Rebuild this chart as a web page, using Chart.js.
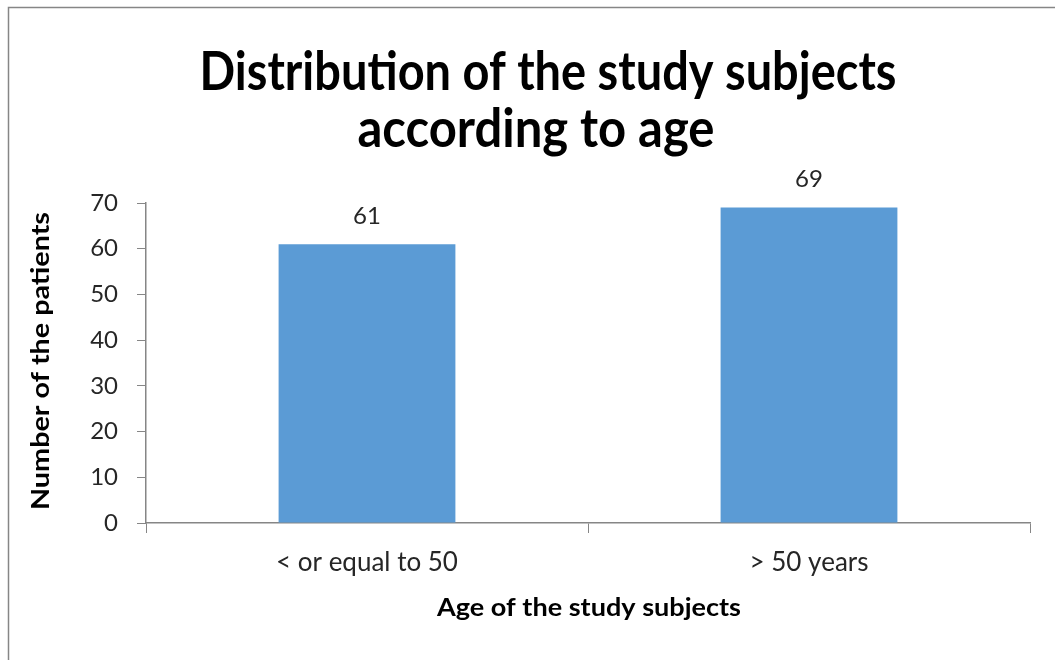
<!DOCTYPE html>
<html>
<head>
<meta charset="utf-8">
<script src="https://cdn.jsdelivr.net/npm/chart.js@4/dist/chart.umd.min.js"></script>
<style>
  html, body { margin: 0; padding: 0; background: #fff; }
  #wrap { width: 1055px; height: 660px; position: relative; }
</style>
</head>
<body>
<div id="wrap"><canvas id="ageChart"></canvas></div>
<script>
const categories = ['< or equal to 50', '> 50 years'];
const patients = [61, 69];
const yTicks = [0, 10, 20, 30, 40, 50, 60, 70];

const titleLines = ['Distribution of the study subjects', 'according to age'];
const xTitle = 'Age of the study subjects';
const yTitle = 'Number of the patients';

const FONT = "Lato, 'Liberation Sans', sans-serif";
const axisGray = '#868686';
const textColor = '#262626';

// draws text squeezed/stretched to a given width (the original font is tall and narrow)
function fitText(c, text, x, y, width) {
  const w = c.measureText(text).width;
  c.save();
  c.translate(x, y);
  c.scale(width / w, 1);
  c.fillText(text, 0, 0);
  c.restore();
}

const decor = {
  id: 'decor',
  beforeDraw(chart) {
    const c = chart.ctx;
    c.save();
    c.fillStyle = '#fff';
    c.fillRect(0, 0, chart.width, chart.height);
    c.strokeStyle = axisGray;
    c.lineWidth = 1.5;
    c.strokeRect(8.5, 7.5, chart.width + 20, chart.height + 20);
    c.restore();
  },
  afterDraw(chart) {
    const c = chart.ctx;
    c.save();
    c.fillStyle = '#000';
    c.textAlign = 'center';
    c.textBaseline = 'alphabetic';
    c.font = `bold 54px ${FONT}`;
    fitText(c, titleLines[0], 548, 90, 697);
    fitText(c, titleLines[1], 536, 147, 357);

    c.font = `bold 25px ${FONT}`;
    fitText(c, xTitle, 589, 616, 304);

    c.save();
    c.translate(49, 361);
    c.rotate(-Math.PI / 2);
    fitText(c, yTitle, 0, 0, 298);
    c.restore();

    c.font = `24px ${FONT}`;
    c.fillStyle = textColor;
    c.textBaseline = 'middle';
    chart.getDatasetMeta(0).data.forEach((bar, i) => {
      c.fillText(String(patients[i]), bar.x, bar.y - 28);
    });
    c.restore();
  }
};

new Chart(document.getElementById('ageChart'), {
  type: 'bar',
  data: {
    labels: categories,
    datasets: [{
      data: patients,
      backgroundColor: '#5B9BD5',
      borderWidth: 0,
      barPercentage: 0.40,
      categoryPercentage: 1.0
    }]
  },
  options: {
    responsive: true,
    maintainAspectRatio: false,
    animation: false,
    layout: { padding: { left: 0, top: 203, right: 25, bottom: 0 } },
    plugins: {
      legend: { display: false },
      tooltip: { enabled: false },
      title: { display: false }
    },
    scales: {
      x: {
        afterFit(scale) { scale.height = 660 - 523; },
        grid: {
          display: true,
          offset: true,
          drawOnChartArea: false,
          drawTicks: true,
          tickLength: 10,
          color: axisGray,
          lineWidth: 1
        },
        border: { display: true, color: axisGray, width: 1.5 },
        ticks: {
          color: textColor,
          font: { family: FONT, size: 26 },
          padding: 14,
          maxRotation: 0
        }
      },
      y: {
        min: 0,
        max: 70,
        afterFit(scale) { scale.width = 146; },
        afterBuildTicks(scale) { scale.ticks = yTicks.map(v => ({ value: v })); },
        grid: {
          display: true,
          drawOnChartArea: false,
          drawTicks: true,
          tickLength: 9,
          color: axisGray,
          lineWidth: 1
        },
        border: { display: true, color: axisGray, width: 1.5 },
        ticks: {
          color: textColor,
          font: { family: FONT, size: 24 },
          padding: 19
        }
      }
    }
  },
  plugins: [decor]
});
</script>
</body>
</html>
